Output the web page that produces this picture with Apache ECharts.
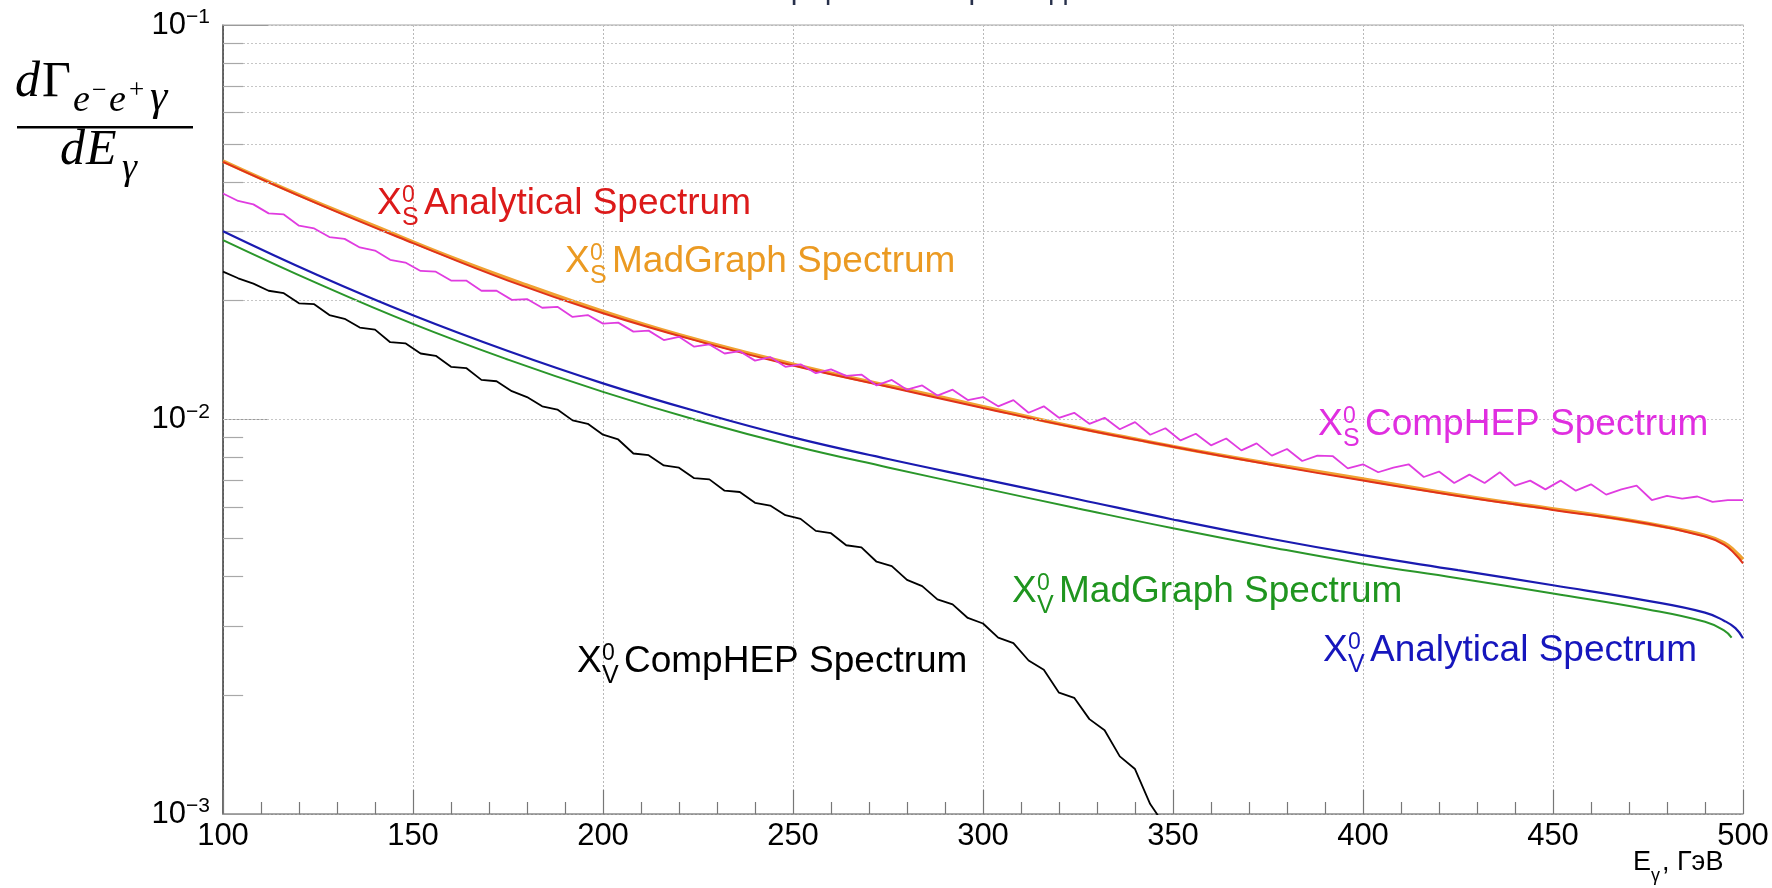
<!DOCTYPE html>
<html><head><meta charset="utf-8">
<script src="https://cdn.jsdelivr.net/npm/echarts@6/dist/echarts.min.js"></script>
<style>html,body{margin:0;padding:0;background:#fff}#c{width:1772px;height:888px}</style>
</head><body><div id="c"></div>
<script>
// ---------------- data ----------------
const xTicks = [100, 150, 200, 250, 300, 350, 400, 450, 500];
const yTicks = [0.001, 0.01, 0.1];
const yMinor = [0.002,0.003,0.004,0.005,0.006,0.007,0.008,0.009,0.02,0.03,0.04,0.05,0.06,0.07,0.08,0.09];

const analyticEnergy = [100,125,150,175,200,225,250,275,300,325,350,375,400,425,450,475,490,495,498,500];
const xsAnalytical = [0.0450,0.0352,0.0280,0.0225,0.0186,0.0158,0.0137,0.0121,0.0107,0.0095,0.00853,0.00770,0.00700,0.00640,0.00590,0.00544,0.00505,0.00482,0.00455,0.00432];
const xvAnalytical = [0.0300,0.0232,0.01837,0.01491,0.01235,0.01046,0.00901,0.00794,0.00706,0.00628,0.00558,0.00500,0.00453,0.00415,0.00380,0.00347,0.00324,0.00309,0.00296,0.00279];

const xsMadGraphEnergy = [100,120,140,160,180,200,220,240,260,280,300,320,340,360,380,400,420,440,460,480,490,495,498,500];
const xsMadGraph = [0.0452,0.0371,0.0309,0.0258,0.0219,0.0188,0.0164,0.0146,0.0131,0.0119,0.01078,0.00975,0.00892,0.00820,0.00760,0.00706,0.00655,0.00612,0.00575,0.00534,0.00508,0.00487,0.00462,0.00442];

const xvMadGraphEnergy = [100,125,150,175,200,225,250,275,300,325,350,375,400,425,450,475,490,495,497];
const xvMadGraph = [0.0285,0.0221,0.01747,0.01418,0.01175,0.00994,0.00858,0.00756,0.00670,0.00595,0.00530,0.00476,0.00431,0.00396,0.00362,0.00330,0.00307,0.00292,0.00280];

// CompHEP histograms, 4 GeV bins starting at 100 GeV
const compHEPStart = 100, compHEPStep = 4;
const xsCompHEP = [0.0374,0.0358,0.0351,0.0333,0.0331,0.0310,0.0305,0.0290,0.0287,0.0273,
 0.0268,0.0254,0.0250,0.0238,0.0237,0.0225,0.0225,0.0212,0.0212,0.0201,
 0.0202,0.0192,0.0193,0.0182,0.0184,0.0175,0.0176,0.0167,0.0168,0.0159,
 0.0162,0.0153,0.0155,0.0147,0.0149,0.0141,0.0144,0.0136,0.0138,0.0131,
 0.0134,0.0129,0.0130,0.0122,0.0126,0.0119,0.0122,0.0115,0.0119,0.0112,
 0.0114,0.0108,0.0112,0.0104,0.0108,0.0101,0.0104,0.00975,0.0101,0.00945,
 0.00985,0.00915,0.00950,0.00885,0.00920,0.00860,0.00895,0.00835,0.00870,0.00810,
 0.00842,0.00785,0.00810,0.00808,0.00752,0.00770,0.00735,0.00755,0.00770,0.00715,
 0.00738,0.00690,0.00725,0.00690,0.00735,0.00680,0.00700,0.00665,0.00700,0.00660,
 0.00685,0.00645,0.00665,0.00680,0.00625,0.00640,0.00630,0.00638,0.00618,0.00625,
 0.00625];
const xvCompHEP = [0.0237,0.0228,0.0221,0.0212,0.0209,0.0197,0.0196,0.0184,0.0180,0.0171,
 0.0169,0.0157,0.0156,0.0147,0.0145,0.0136,0.0135,0.0126,0.0125,0.0118,
 0.0114,0.0108,0.0106,0.00995,0.00975,0.00915,0.00890,0.00820,0.00812,0.00765,
 0.00755,0.00710,0.00705,0.00660,0.00655,0.00615,0.00605,0.00572,0.00560,0.00522,
 0.00515,0.00480,0.00474,0.00436,0.00425,0.00392,0.00378,0.00350,0.00340,0.00314,
 0.00304,0.00280,0.00271,0.00245,0.00232,0.00203,0.00197,0.00174,0.00163,0.00140,
 0.00130,0.00106,0.00093];

// ---------------- build ----------------
const pairs = (xs, ys) => ys.map((v, i) => [xs[i], v]);
const binned = ys => ys.map((v, i) => [compHEPStart + compHEPStep * i, v]);

const SANS = 'Liberation Sans, Arial, Helvetica, sans-serif';
const SERIF = 'Liberation Serif, DejaVu Serif, serif';

function T(x, base, text, fs, color, family, italic) {
  return {type: 'text', x: x, y: base - 0.35 * fs, silent: true, z: 100,
    style: {text: text, fontSize: fs, fontFamily: family || SANS, fontStyle: italic ? 'italic' : 'normal',
      fill: color, align: 'left', verticalAlign: 'middle'}};
}

const labelLayout = [
  {x0: 377, b: 217, sub: 'S', text: 'Analytical Spectrum', color: '#dc1a1a'},
  {x0: 565, b: 275, sub: 'S', text: 'MadGraph Spectrum', color: '#eb9a22'},
  {x0: 1318, b: 438, sub: 'S', text: 'CompHEP Spectrum', color: '#e02ee0'},
  {x0: 1012, b: 605, sub: 'V', text: 'MadGraph Spectrum', color: '#1f951f'},
  {x0: 1323, b: 664, sub: 'V', text: 'Analytical Spectrum', color: '#1616bd'},
  {x0: 577, b: 675, sub: 'V', text: 'CompHEP Spectrum', color: '#000000'}
];

const graphics = [];
labelLayout.forEach(l => {
  graphics.push(T(l.x0, l.b, 'X', 37, l.color));
  graphics.push(T(l.x0 + 25, l.b - 13, '0', 23, l.color));
  graphics.push(T(l.x0 + 25, l.b + 10, l.sub, 25, l.color));
  graphics.push(T(l.x0 + 47, l.b, l.text, 37, l.color));
});
// x axis name
graphics.push(T(1633, 872, 'E', 27, '#000'));
graphics.push(T(1651, 882, 'γ', 18, '#000'));
graphics.push(T(1662, 872, ', ГэВ', 27, '#000'));
// y axis title (fraction)
graphics.push(T(15, 100, 'd', 50, '#000', SERIF, true));
graphics.push(T(42, 100, 'Γ', 50, '#000', SERIF, false));
graphics.push(T(73, 114, 'e', 38, '#000', SERIF, true));
graphics.push(T(92, 100, '−', 26, '#000', SERIF, false));
graphics.push(T(109, 114, 'e', 38, '#000', SERIF, true));
graphics.push(T(129, 100, '+', 27, '#000', SERIF, false));
graphics.push(T(150, 114, 'γ', 44, '#000', SERIF, true));
graphics.push({type: 'rect', silent: true, z: 100, shape: {x: 17, y: 126, width: 176, height: 2.5}, style: {fill: '#000'}});
graphics.push(T(60, 168, 'd', 50, '#000', SERIF, true));
graphics.push(T(86, 168, 'E', 50, '#000', SERIF, true));
graphics.push(T(122, 182, 'γ', 38, '#000', SERIF, true));
// title (cut off at top in the reference)
graphics.push({type: 'text', x: 904, y: -9, silent: true, z: 100,
  style: {text: 'Спектр фотонов в распадах', fontSize: 30, fontFamily: SANS, fill: '#27304b', align: 'center', verticalAlign: 'middle'}});

const minorGrid = yMinor.map(v => ({yAxis: v}));
const minorStubs = yMinor.map(v => [{coord: [100, v]}, {coord: [105.3, v]}]);

function lineSeries(name, data, color, width, z, smooth) {
  return {name: name, type: 'line', data: data, showSymbol: false, symbol: 'none', z: z,
    smooth: smooth ? 0.45 : false, clip: true, animation: false,
    lineStyle: {color: color, width: width}, emphasis: {disabled: true}};
}

const chart = echarts.init(document.getElementById('c'), null, {renderer: 'canvas'});
chart.setOption({
  animation: false,
  backgroundColor: '#ffffff',
  grid: {left: 223, right: 29, top: 25, bottom: 74, containLabel: false},
  xAxis: [{
    type: 'value', min: 100, max: 500, interval: 50, position: 'bottom',
    axisLine: {lineStyle: {color: '#8a8a8a', width: 1.5}},
    axisTick: {inside: true, length: 24, lineStyle: {color: '#777', width: 1.2}},
    minorTick: {show: true, splitNumber: 5, length: 12, lineStyle: {color: '#777', width: 1.2}},
    axisLabel: {color: '#000', fontSize: 31, fontFamily: SANS, margin: 7,
      formatter: v => xTicks.includes(v) ? String(v) : ''},
    splitLine: {show: true, lineStyle: {color: '#b8b8b8', type: [2, 2], width: 1}}
  }, {
    type: 'value', min: 100, max: 500, position: 'top',
    axisLine: {show: true, lineStyle: {color: '#c4c4c4', width: 1.5}},
    axisTick: {show: false}, axisLabel: {show: false}, splitLine: {show: false}
  }],
  yAxis: {
    type: 'log', logBase: 10, min: 0.001, max: 0.1,
    axisLine: {show: true, lineStyle: {color: '#3a3a3a', width: 1.5}},
    axisTick: {show: true, inside: true, length: 45, lineStyle: {color: '#9a9a9a', width: 1.2}},
    axisLabel: {margin: 13,
      formatter: v => {
        const e = Math.round(Math.log10(v));
        if (!yTicks.some(t => Math.abs(Math.log10(t) - e) < 1e-6)) return '';
        return '{b|10}{s|' + (e < 0 ? '−' : '') + Math.abs(e) + '}';
      },
      rich: {
        b: {fontSize: 31, fontFamily: SANS, color: '#000', lineHeight: 36},
        s: {fontSize: 21, fontFamily: SANS, color: '#000', verticalAlign: 'top', lineHeight: 21}
      }},
    splitLine: {show: true, lineStyle: {color: '#9a9a9a', type: [2, 2], width: 1}}
  },
  graphic: graphics,
  series: [
    {name: 'grid', type: 'line', data: [], z: 1, silent: true, animation: false,
      markLine: {silent: true, symbol: 'none', animation: false, label: {show: false},
        lineStyle: {color: '#c6c6c6', type: [2, 2], width: 1},
        emphasis: {disabled: true},
        data: minorGrid}},
    {name: 'stubs', type: 'line', data: [], z: 1, silent: true, animation: false,
      markLine: {silent: true, symbol: 'none', animation: false, label: {show: false},
        lineStyle: {color: '#a8a8a8', type: 'solid', width: 1.2},
        emphasis: {disabled: true},
        data: minorStubs}},
    lineSeries('X_S^0 MadGraph Spectrum', pairs(xsMadGraphEnergy, xsMadGraph), '#f0a232', 3.6, 3, true),
    lineSeries('X_S^0 Analytical Spectrum', pairs(analyticEnergy, xsAnalytical), '#e0321a', 2, 4, true),
    lineSeries('X_S^0 CompHEP Spectrum', binned(xsCompHEP), '#e03ce0', 1.8, 5, false),
    lineSeries('X_V^0 MadGraph Spectrum', pairs(xvMadGraphEnergy, xvMadGraph), '#2a962a', 2, 4, true),
    lineSeries('X_V^0 Analytical Spectrum', pairs(analyticEnergy, xvAnalytical), '#1a1ab0', 2.2, 5, true),
    lineSeries('X_V^0 CompHEP Spectrum', binned(xvCompHEP), '#000000', 1.8, 6, false)
  ]
});
</script>
</body></html>
